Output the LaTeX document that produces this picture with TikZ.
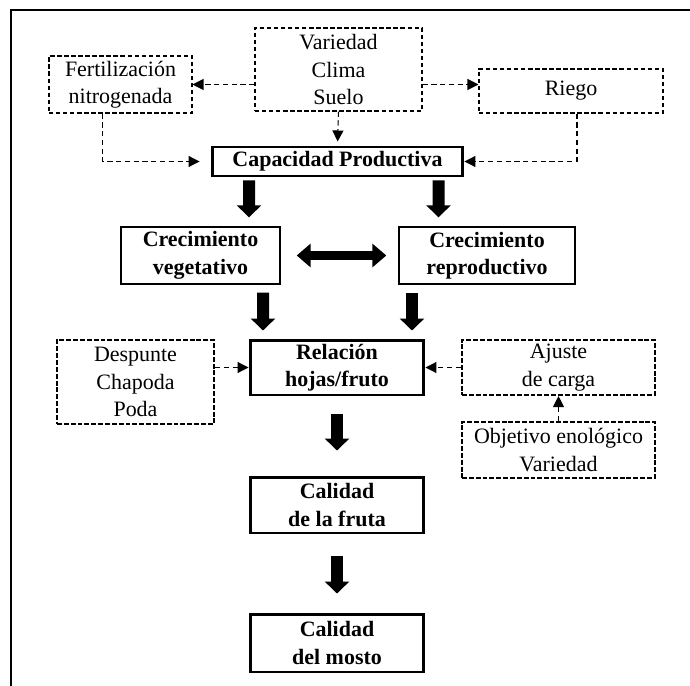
\documentclass[tikz,border=0pt]{standalone}
\usepackage{fontspec}
\setmainfont{Liberation Serif}
\usetikzlibrary{arrows.meta}

\begin{document}
\begin{tikzpicture}[
	x=0.02cm, y=-0.02cm,
	every node/.style={ align=center, inner sep=0pt, font=\fontsize{12.5}{15.6}\selectfont },
	boxbold/.style={ draw, line width=0.8pt, font=\fontsize{12.5}{15.6}\selectfont\bfseries },
	boxthick/.style={ boxbold, line width=1.7pt },
	boxdash/.style={ draw, line width=0.6pt, dash pattern=on 2.5pt off 1.5pt },
	boxdots/.style={ draw, line width=1.2pt, dash pattern=on 2.8pt off 1.1pt },
	linkdash/.style={ -{Triangle[length=0.22cm,width=0.22cm]}, line width=0.6pt, dash pattern=on 3pt off 2pt },
	fat/.style={ -{Triangle[length=0.24cm,width=0.48cm]}, line width=0.24cm },
	fatboth/.style={ {Triangle[length=0.28cm,width=0.46cm]}-{Triangle[length=0.28cm,width=0.46cm]}, line width=0.2cm }
]

\useasboundingbox (0,0) rectangle (690,686);
\draw[line width=1.7pt] (11,686) -- (11,10) -- (690,10);

\node at (338.5,69.5) (var) [boxdash, minimum width=3.34cm, minimum height=1.66cm] {Variedad\\Clima\\Suelo};
\node at (120.5,84.5) (fert) [boxdash, minimum width=2.86cm, minimum height=1.14cm] {Fertilización\\nitrogenada};
\node at (571,91) (riego) [boxdash, minimum width=3.68cm, minimum height=0.88cm] {Riego};
\node at (337.5,161.5) (cap) [boxthick, minimum width=5.02cm, minimum height=0.58cm] {Capacidad Productiva};
\node at (200.5,255.5) (veg) [boxbold, minimum width=3.18cm, minimum height=1.14cm] {Crecimiento\\vegetativo};
\node at (487,255.5) (rep) [boxbold, minimum width=3.52cm, minimum height=1.14cm] {Crecimiento\\reproductivo};
\node at (337,367.5) (rel) [boxthick, minimum width=3.48cm, minimum height=1.1cm] {Relación\\hojas/fruto};
\node at (135.5,382) (desp) [boxdots, minimum width=3.14cm, minimum height=1.68cm] {Despunte\\Chapoda\\Poda};
\node at (558.5,367.5) (aju) [boxdots, minimum width=3.86cm, minimum height=1.1cm] {Ajuste\\de carga};
\node at (558.5,450) (obj) [boxdots, minimum width=3.86cm, minimum height=1.12cm] {Objetivo enológico\\Variedad};
\node at (337,505) (fruta) [boxthick, minimum width=3.48cm, minimum height=1.12cm] {Calidad\\de la fruta};
\node at (337,643) (mosto) [boxthick, minimum width=3.48cm, minimum height=1.16cm] {Calidad\\del mosto};

\draw[linkdash] (var.west |- fert.east) -- (fert.east);
\draw[linkdash] (var.east |- fert.east) -- (riego.west |- fert.east);
\draw[linkdash, shorten >=0.08cm] (var.south) -- (cap.north);
\draw[linkdash, shorten >=0.22cm] ([shift={(-18,0)}]fert.south) |- (cap.west);
\draw[linkdash] ([shift={(6,0)}]riego.south) |- (cap.east);
\draw[linkdash] (desp.east |- rel.west) -- (rel.west);
\draw[linkdash] (aju.west) -- (rel.east);
\draw[linkdash] (obj.north) -- (aju.south);

\draw[fat] ([shift={(-88.5,3)}]cap.south) -- ([shift={(48.5,-9)}]veg.north);
\draw[fat] ([shift={(101,3)}]cap.south) -- ([shift={(-48.5,-9)}]rep.north);
\draw[fatboth, shorten <=0.32cm, shorten >=0.24cm] (veg.east) -- (rep.west);
\draw[fat] ([shift={(62.5,8)}]veg.south) -- ([shift={(-74,-8)}]rel.north);
\draw[fat] ([shift={(-75,8)}]rep.south) -- ([shift={(75,-8)}]rel.north);
\draw[fat, shorten <=0.36cm, shorten >=0.5cm] (rel.south) -- (fruta.north);
\draw[fat, shorten <=0.44cm, shorten >=0.38cm] (fruta.south) -- (mosto.north);

\end{tikzpicture}
\end{document}
